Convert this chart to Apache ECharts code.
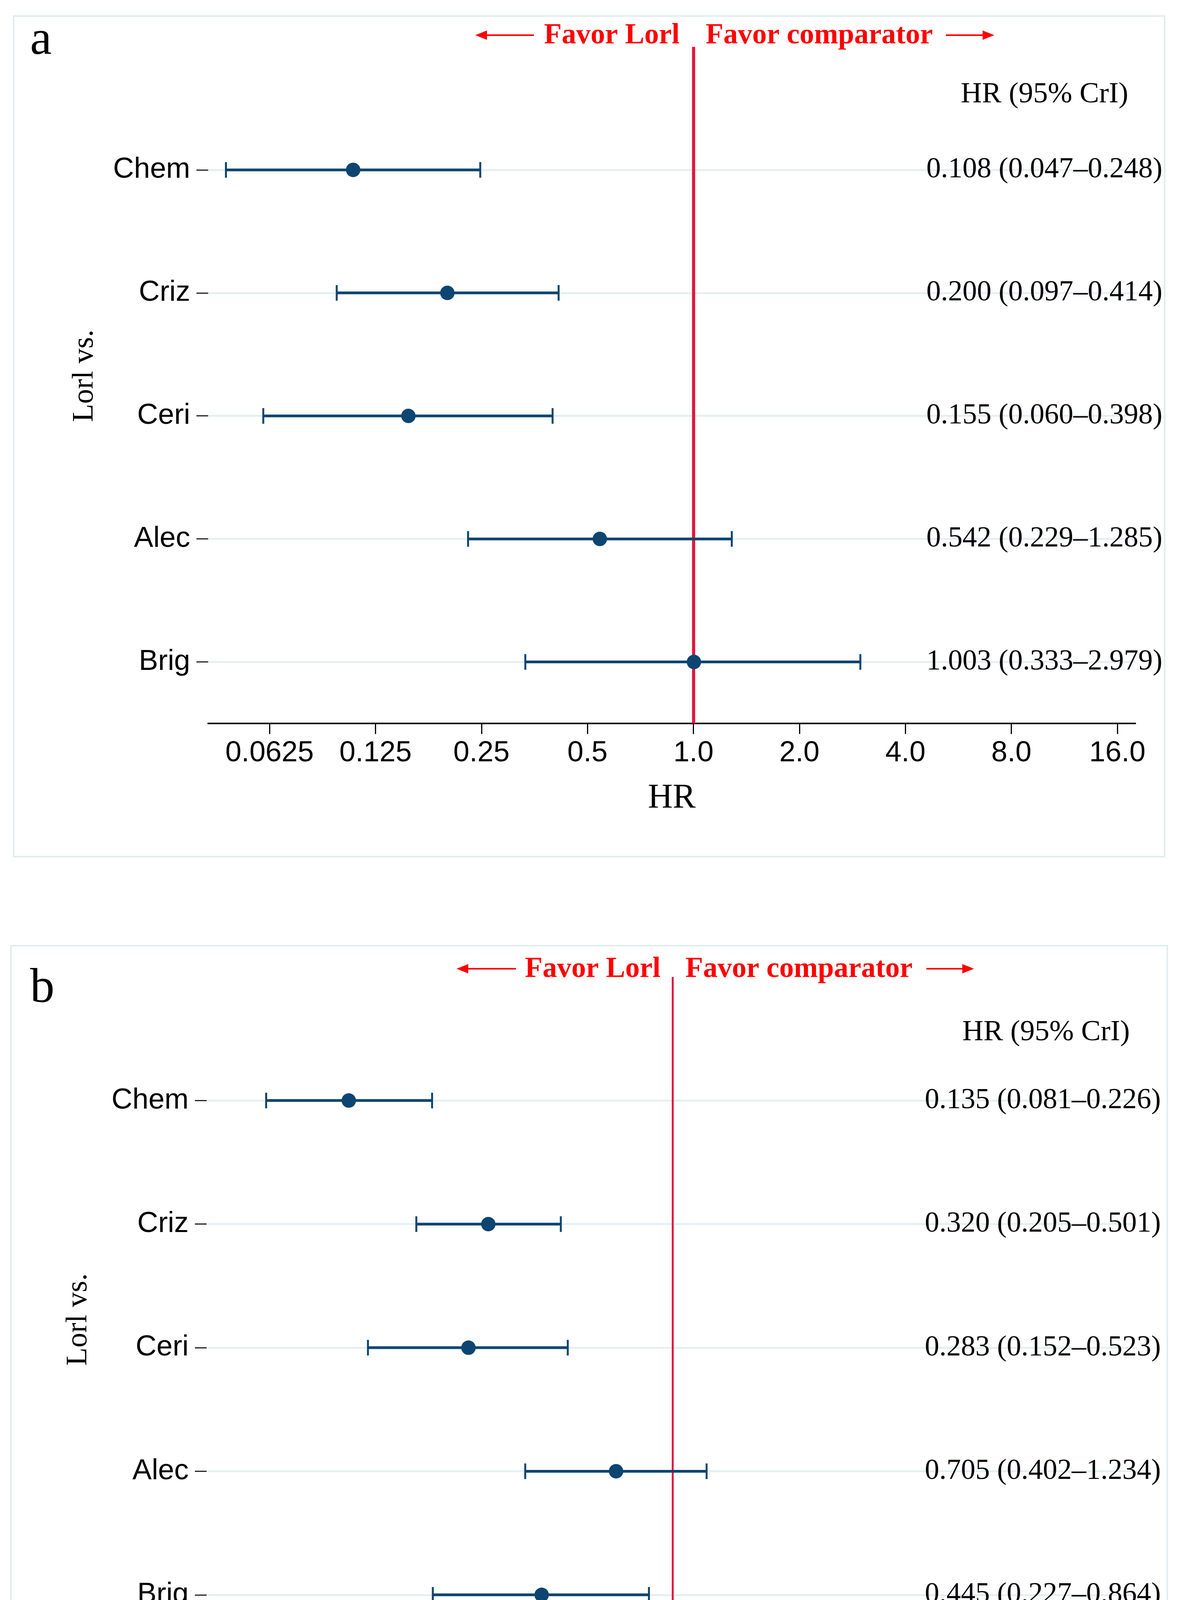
<!DOCTYPE html>
<html><head><meta charset="utf-8">
<script src="https://cdn.jsdelivr.net/npm/echarts@6/dist/echarts.min.js"></script>
<style>html,body{margin:0;padding:0;background:#fff}#c{width:3024px;height:4611px}</style>
</head><body><div id="c"></div>
<script>
// ---- data ----
const categories = ['Chem', 'Criz', 'Ceri', 'Alec', 'Brig'];
const hrA = [0.108, 0.200, 0.155, 0.542, 1.003];
const loA = [0.047, 0.097, 0.060, 0.229, 0.333];
const hiA = [0.248, 0.414, 0.398, 1.285, 2.979];
const hrB = [0.135, 0.320, 0.283, 0.705, 0.445];
const loB = [0.081, 0.205, 0.152, 0.402, 0.227];
const hiB = [0.226, 0.501, 0.523, 1.234, 0.864];
const xTicks = [0.0625, 0.125, 0.25, 0.5, 1, 2, 4, 8, 16];
const xTickLabels = ['0.0625', '0.125', '0.25', '0.5', '1.0', '2.0', '4.0', '8.0', '16.0'];
const refValue = 1;
const panelLetters = ['a', 'b'];

const yPos = categories.map((c, i) => categories.length - i);
const NAVY = '#0c4571', RED_LINE = '#e3173e', RED_TXT = '#ff0000', GRID = '#e6eff2', BOX = '#e2ecef';
const SANS = '"Liberation Sans", Arial, sans-serif';
const SERIF = '"Liberation Serif", "Times New Roman", serif';

const layouts = [
  {left: 533, right: 117, top: 120, height: 1732, xMin: 0.04184, xMax: 17.99, textX: 2372, refW: 8},
  {left: 529, right: 112, top: 2501, height: 1740, xMin: 0.05604, xMax: 17.70, textX: 2368, refW: 5}
];
const panels = [[hrA, loA, hiA], [hrB, loB, hiB]];

function tickLabel(v) {
  let best = 0, bd = Infinity;
  xTicks.forEach((t, i) => { const d = Math.abs(Math.log2(t) - Math.log2(v)); if (d < bd) { bd = d; best = i; } });
  return xTickLabels[best];
}
function fmt(v) { return v.toFixed(3); }

const grid = [], xAxis = [], yAxis = [], series = [];
panels.forEach((p, k) => {
  const L = layouts[k];
  const [hr, lo, hi] = p;
  grid.push({left: L.left, right: L.right, top: L.top, height: L.height, containLabel: false});
  xAxis.push({
    gridIndex: k, type: 'log', logBase: 2, min: L.xMin, max: L.xMax,
    axisLine: {show: true, lineStyle: {color: '#000', width: 4}},
    axisTick: {show: true, customValues: xTicks, length: 27, lineStyle: {color: '#000', width: 3}},
    axisLabel: {show: true, customValues: xTicks, formatter: v => tickLabel(v), fontFamily: SANS, fontSize: 74, color: '#000', margin: 40},
    splitLine: {show: false}, minorTick: {show: false}, minorSplitLine: {show: false},
    name: 'HR', nameLocation: 'middle', nameGap: 148,
    nameTextStyle: {fontFamily: SERIF, fontSize: 88, color: '#000'}
  });
  yAxis.push({
    gridIndex: k, type: 'value', min: 0.5, max: 6,
    axisLine: {show: false},
    axisTick: {show: true, customValues: yPos, length: 30, lineStyle: {color: '#222', width: 3}},
    axisLabel: {show: true, customValues: yPos, formatter: v => categories[categories.length - Math.round(v)], fontFamily: SANS, fontSize: 74, color: '#000', margin: 46},
    splitLine: {show: false}
  });
  // grid lines
  series.push({
    type: 'line', xAxisIndex: k, yAxisIndex: k, data: [], z: 1, silent: true,
    markLine: {silent: true, z: 1, symbol: ['none', 'none'], label: {show: false}, animation: false,
      lineStyle: {color: GRID, width: 5, type: 'solid'},
      data: yPos.map(y => ({yAxis: y}))}
  });
  // reference line
  series.push({
    type: 'line', xAxisIndex: k, yAxisIndex: k, data: [], z: 2, silent: true,
    markLine: {silent: true, z: 2, symbol: ['none', 'none'], label: {show: false}, animation: false,
      lineStyle: {color: RED_LINE, width: L.refW, type: 'solid'},
      data: [{xAxis: refValue}]}
  });
  // error bars
  series.push({
    type: 'custom', xAxisIndex: k, yAxisIndex: k, z: 3, clip: false, silent: true,
    data: lo.map((v, i) => [v, hi[i], yPos[i]]),
    encode: {x: [0, 1], y: 2},
    renderItem: (params, api) => {
      const y = api.value(2);
      const s = api.coord([api.value(0), y]);
      const e = api.coord([api.value(1), y]);
      const cap = 20;
      const st = {stroke: NAVY, lineWidth: 7, fill: null};
      const cst = {stroke: NAVY, lineWidth: 5, fill: null};
      return {type: 'group', children: [
        {type: 'line', shape: {x1: s[0], y1: s[1], x2: e[0], y2: e[1]}, style: st},
        {type: 'line', shape: {x1: s[0], y1: s[1] - cap, x2: s[0], y2: s[1] + cap}, style: cst},
        {type: 'line', shape: {x1: e[0], y1: e[1] - cap, x2: e[0], y2: e[1] + cap}, style: cst}
      ]};
    }
  });
  // points
  series.push({
    type: 'scatter', xAxisIndex: k, yAxisIndex: k, z: 4, silent: true,
    symbol: 'circle', symbolSize: 37, itemStyle: {color: NAVY, opacity: 1},
    data: hr.map((v, i) => [v, yPos[i]])
  });
  // value texts
  series.push({
    type: 'custom', xAxisIndex: k, yAxisIndex: k, z: 5, clip: false, silent: true,
    data: hr.map((v, i) => [refValue, yPos[i]]),
    encode: {x: 0, y: 1},
    renderItem: (params, api) => {
      const i = params.dataIndex;
      const c = api.coord([api.value(0), api.value(1)]);
      const txt = fmt(hr[i]) + ' (' + fmt(lo[i]) + '\u2013' + fmt(hi[i]) + ')';
      return {type: 'text', x: L.textX, y: c[1],
        style: {text: txt, fill: '#000', font: '74px ' + SERIF, align: 'left', verticalAlign: 'middle'}};
    }
  });
});

function arrow(x1, x2, y) {
  const dir = x2 > x1 ? 1 : -1;
  const hl = 30, hh = 12;
  return [
    {type: 'line', shape: {x1: x1, y1: y, x2: x2 - dir * hl, y2: y}, style: {stroke: RED_TXT, lineWidth: 4}},
    {type: 'polygon', shape: {points: [[x2, y], [x2 - dir * hl, y - hh], [x2 - dir * hl, y + hh]]}, style: {fill: RED_TXT}}
  ];
}

const graphic = [
  {type: 'rect', shape: {x: 35, y: 41, width: 2947, height: 2152}, style: {fill: null, stroke: BOX, lineWidth: 4}, z: 0},
  {type: 'rect', shape: {x: 28, y: 2421, width: 2961, height: 2156}, style: {fill: null, stroke: BOX, lineWidth: 4}, z: 0},
  {type: 'text', x: 77, y: 105, style: {text: panelLetters[0], font: '125px ' + SERIF, fill: '#000', align: 'left', verticalAlign: 'middle'}},
  {type: 'text', x: 77, y: 2532, style: {text: panelLetters[1], font: '125px ' + SERIF, fill: '#000', align: 'left', verticalAlign: 'middle'}},
  {type: 'text', x: 1393, y: 92, style: {text: 'Favor Lorl', font: 'bold 74px ' + SERIF, fill: RED_TXT, align: 'left', verticalAlign: 'middle'}},
  {type: 'text', x: 1807, y: 92, style: {text: 'Favor comparator', font: 'bold 74px ' + SERIF, fill: RED_TXT, align: 'left', verticalAlign: 'middle'}},
  {type: 'text', x: 1344, y: 2482, style: {text: 'Favor Lorl', font: 'bold 74px ' + SERIF, fill: RED_TXT, align: 'left', verticalAlign: 'middle'}},
  {type: 'text', x: 1755, y: 2482, style: {text: 'Favor comparator', font: 'bold 74px ' + SERIF, fill: RED_TXT, align: 'left', verticalAlign: 'middle'}},
  {type: 'text', x: 2460, y: 242, style: {text: 'HR (95% CrI)', font: '75px ' + SERIF, fill: '#000', align: 'left', verticalAlign: 'middle'}},
  {type: 'text', x: 2464, y: 2643, style: {text: 'HR (95% CrI)', font: '75px ' + SERIF, fill: '#000', align: 'left', verticalAlign: 'middle'}},
  {type: 'text', x: 217, y: 962, rotation: Math.PI / 2, style: {text: 'Lorl vs.', font: '76px ' + SERIF, fill: '#000', align: 'center', verticalAlign: 'middle'}},
  {type: 'text', x: 201, y: 3378, rotation: Math.PI / 2, style: {text: 'Lorl vs.', font: '76px ' + SERIF, fill: '#000', align: 'center', verticalAlign: 'middle'}}
].concat(arrow(1367, 1217, 90), arrow(2422, 2546, 90), arrow(1321, 1169, 2480), arrow(2372, 2494, 2480));

const chart = echarts.init(document.getElementById('c'), null, {renderer: 'canvas'});
chart.setOption({
  animation: false,
  backgroundColor: '#fff',
  grid, xAxis, yAxis, series, graphic
});
</script>
</body></html>
